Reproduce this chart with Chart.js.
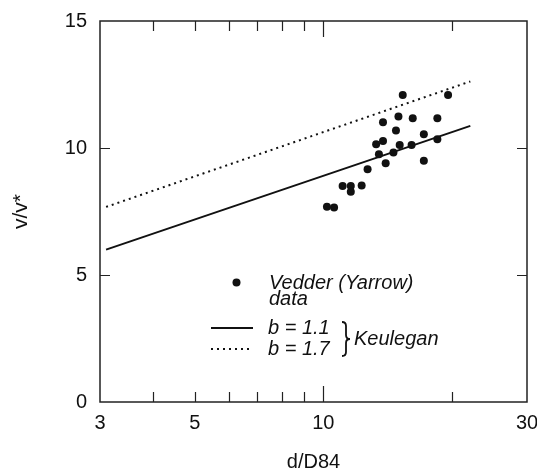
<!DOCTYPE html>
<html>
<head>
<meta charset="utf-8">
<script src="https://cdn.jsdelivr.net/npm/chart.js@4.4.1/dist/chart.umd.min.js"></script>
<style>
  body { margin: 0; background: #fff; }
  #wrap { width: 537px; height: 472px; }
</style>
</head>
<body>
<div id="wrap"><canvas id="velChart" width="537" height="472"></canvas></div>
<script>
// Vedder (Yarrow) measurements
const depthRatio = [10.2, 10.6, 11.1, 11.6, 11.6, 12.3, 12.7, 13.3, 13.5, 13.8, 13.8, 14.0,
                    14.6, 14.8, 15.0, 15.1, 15.35, 16.1, 16.2, 17.2, 17.2, 18.5, 18.5, 19.6];
const velRatio   = [7.69, 7.66, 8.50, 8.50, 8.28, 8.52, 9.16, 10.15, 9.75, 11.01, 10.28, 9.40,
                    9.82, 10.69, 11.24, 10.12, 12.09, 10.12, 11.17, 10.54, 9.50, 11.17, 10.34, 12.09];

// Keulegan relation, straight on the log axis -> end points only
const keuleganX   = [3.1, 22.1];
const keuleganB11 = [6.0, 10.87];
const keuleganB17 = [7.68, 12.62];

const xTickLabels = [3, 5, 10, 30];
const yTickLabels = [0, 5, 10, 15];
const xTickMarks  = [4, 5, 6, 7, 8, 9, 10, 20];
const xLongMarks  = [10];
const yTickMarks  = [5, 10];

const FONT = "'Liberation Sans', Arial, Helvetica, sans-serif";
const INK = '#111';

const toPoints = (xs, ys) => xs.map((v, i) => ({ x: v, y: ys[i] }));

// box round the plot with inward tick marks on all four sides
const framePlugin = {
  id: 'frame',
  afterDraw(chart) {
    const { ctx, chartArea: a, scales: { x, y } } = chart;
    ctx.save();
    ctx.strokeStyle = '#222';
    ctx.lineWidth = 1.5;
    ctx.strokeRect(a.left, a.top, a.right - a.left, a.bottom - a.top);
    ctx.lineWidth = 1.2;
    ctx.beginPath();
    xTickMarks.forEach(v => {
      const px = Math.round(x.getPixelForValue(v)) + 0.5;
      const len = xLongMarks.includes(v) ? 16 : 10;
      ctx.moveTo(px, a.bottom); ctx.lineTo(px, a.bottom - len);
      ctx.moveTo(px, a.top); ctx.lineTo(px, a.top + len);
    });
    yTickMarks.forEach(v => {
      const py = Math.round(y.getPixelForValue(v)) + 0.5;
      ctx.moveTo(a.left, py); ctx.lineTo(a.left + 10, py);
      ctx.moveTo(a.right, py); ctx.lineTo(a.right - 10, py);
    });
    ctx.stroke();
    ctx.restore();
  }
};

// key placed inside the plot, lower middle
const keyPlugin = {
  id: 'key',
  afterDatasetsDraw(chart) {
    const { ctx } = chart;
    ctx.save();
    ctx.fillStyle = INK;
    ctx.strokeStyle = INK;

    ctx.beginPath();
    ctx.arc(236.5, 282.5, 4, 0, Math.PI * 2);
    ctx.fill();

    ctx.lineWidth = 2;
    ctx.beginPath();
    ctx.moveTo(211, 328); ctx.lineTo(253, 328);
    ctx.stroke();
    ctx.setLineDash([2, 4]);
    ctx.beginPath();
    ctx.moveTo(211, 349); ctx.lineTo(253, 349);
    ctx.stroke();
    ctx.setLineDash([]);

    ctx.font = 'italic 20px ' + FONT;
    ctx.textBaseline = 'alphabetic';
    ctx.textAlign = 'left';
    ctx.fillText('Vedder (Yarrow)', 269, 289);
    ctx.fillText('data', 269, 305);
    ctx.fillText('b = 1.1', 268, 334);
    ctx.fillText('b = 1.7', 268, 355);
    ctx.fillText('Keulegan', 354, 345);

    // curly brace joining the two Keulegan entries
    const bx = 342, top = 322, mid = 339, bot = 356;
    ctx.lineWidth = 1.8;
    ctx.beginPath();
    ctx.moveTo(bx, top);
    ctx.quadraticCurveTo(bx + 4, top, bx + 4, top + 4);
    ctx.lineTo(bx + 4, mid - 4);
    ctx.quadraticCurveTo(bx + 4, mid, bx + 8, mid);
    ctx.quadraticCurveTo(bx + 4, mid, bx + 4, mid + 4);
    ctx.lineTo(bx + 4, bot - 4);
    ctx.quadraticCurveTo(bx + 4, bot, bx, bot);
    ctx.stroke();
    ctx.restore();
  }
};

new Chart(document.getElementById('velChart'), {
  type: 'scatter',
  data: {
    datasets: [
      {
        label: 'Vedder (Yarrow) data',
        data: toPoints(depthRatio, velRatio),
        pointRadius: 4,
        pointBackgroundColor: INK,
        pointBorderWidth: 0,
        showLine: false
      },
      {
        label: 'b = 1.1',
        data: toPoints(keuleganX, keuleganB11),
        showLine: true,
        pointRadius: 0,
        borderColor: INK,
        borderWidth: 2
      },
      {
        label: 'b = 1.7',
        data: toPoints(keuleganX, keuleganB17),
        showLine: true,
        pointRadius: 0,
        borderColor: INK,
        borderWidth: 2,
        borderDash: [2, 4]
      }
    ]
  },
  options: {
    responsive: false,
    animation: false,
    layout: { padding: { top: 21, right: 10, left: 0, bottom: 0 } },
    plugins: {
      legend: { display: false },
      tooltip: { enabled: false }
    },
    scales: {
      x: {
        type: 'logarithmic',
        min: 3,
        max: 30,
        afterBuildTicks: s => { s.ticks = xTickLabels.map(v => ({ value: v })); },
        afterFit: s => { s.height = 70; s.paddingLeft = 0; s.paddingRight = 0; },
        grid: { display: false, drawTicks: false },
        border: { display: false },
        ticks: {
          callback: v => String(v),
          autoSkip: false,
          maxRotation: 0,
          padding: 9,
          color: INK,
          font: { family: FONT, size: 20 }
        },
        title: {
          display: true,
          text: 'd/D84',
          color: INK,
          font: { family: FONT, size: 20, lineHeight: 1 },
          padding: { top: 0, bottom: 0 }
        }
      },
      y: {
        min: 0,
        max: 15,
        afterBuildTicks: s => { s.ticks = yTickLabels.map(v => ({ value: v })); },
        afterFit: s => { s.width = 100; s.paddingTop = 0; s.paddingBottom = 0; },
        grid: { display: false, drawTicks: false },
        border: { display: false },
        ticks: {
          padding: 13,
          color: INK,
          font: { family: FONT, size: 20 }
        },
        title: {
          display: true,
          text: 'v/v*',
          color: INK,
          font: { family: FONT, size: 21 },
          padding: { top: 9, bottom: 0 }
        }
      }
    }
  },
  plugins: [framePlugin, keyPlugin]
});
</script>
</body>
</html>
